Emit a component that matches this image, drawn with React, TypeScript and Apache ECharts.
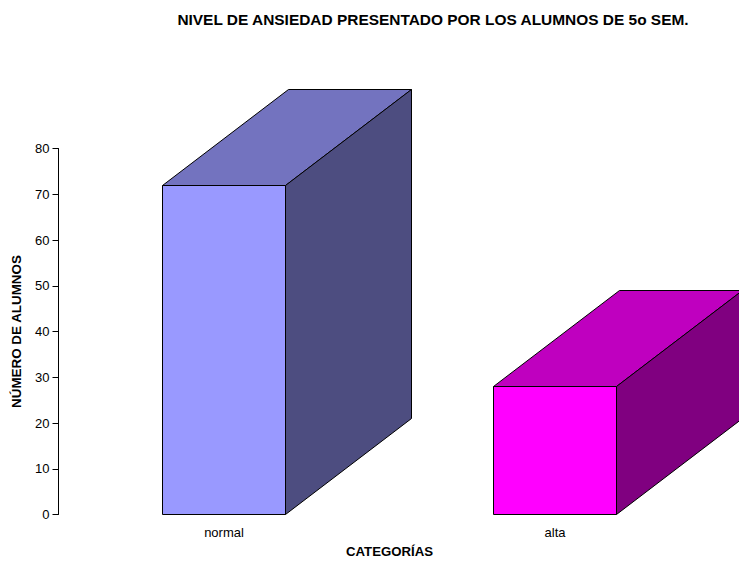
import React, { useEffect, useRef } from "react";
import * as echarts from "echarts";

const categories = ["normal", "alta"];
const alumnos = [72, 28];
const yTicks = { min: 0, max: 80, interval: 10 };
const frontColors = ["#9999ff", "#ff00ff"];
const topColors = ["#7373bf", "#bf00bf"];
const sideColors = ["#4d4d80", "#800080"];

const titleText = "NIVEL DE ANSIEDAD PRESENTADO POR LOS ALUMNOS DE 5o SEM.";
const xName = "CATEGORÍAS";
const yName = "NÚMERO DE ALUMNOS";
const FONT = "'Liberation Sans', Arial, sans-serif";
const DEPTH_X = 126;
const DEPTH_Y = 96;
const BAR_RATIO = 0.3725;

export default function App() {
  const ref = useRef<HTMLDivElement>(null);
  useEffect(() => {
    document.body.style.margin = "0";
    const chart = echarts.init(ref.current!, undefined, { renderer: "svg" });
    chart.setOption({
      animation: false,
      backgroundColor: "#ffffff",
      title: {
        text: titleText,
        left: 428,
        top: 7,
        textAlign: "center",
        textStyle: { fontFamily: FONT, fontSize: 15.45, fontWeight: "bold", color: "#000" },
      },
      grid: { left: 58.5, right: 18.5, top: 148.5, bottom: 47.5, containLabel: false, outerBoundsMode: "none" },
      xAxis: {
        type: "category",
        data: categories,
        name: xName,
        nameLocation: "middle",
        nameGap: 30,
        nameTextStyle: { fontFamily: FONT, fontSize: 13.2, fontWeight: "bold", color: "#000" },
        axisLine: { show: false },
        axisTick: { show: false },
        axisLabel: { fontFamily: FONT, fontSize: 13, color: "#000", margin: 11 },
      },
      yAxis: {
        type: "value",
        min: yTicks.min,
        max: yTicks.max,
        interval: yTicks.interval,
        name: yName,
        nameLocation: "middle",
        nameGap: 36,
        nameTextStyle: { fontFamily: FONT, fontSize: 13.4, fontWeight: "bold", color: "#000" },
        splitLine: { show: false },
        axisLine: { show: true, lineStyle: { color: "#000", width: 1 } },
        axisTick: { show: true, length: 6, lineStyle: { color: "#000", width: 1 } },
        axisLabel: { fontFamily: FONT, fontSize: 13, color: "#000", margin: 9 },
      },
      series: [
        {
          type: "custom",
          clip: false,
          encode: { x: 0, y: 1 },
          data: categories.map((c, i) => [c, alumnos[i]]),
          renderItem: (params: any, api: any) => {
            const idx = params.dataIndex;
            const [cx, yTop] = api.coord([idx, api.value(1)]);
            const [, yBase] = api.coord([idx, 0]);
            const half = (api.size([1, 0])[0] * BAR_RATIO) / 2;
            const x0 = Math.floor(cx - half) + 0.5;
            const x1 = Math.floor(cx + half) + 0.5;
            const yt = Math.floor(yTop) + 0.5;
            const yb = Math.floor(yBase) + 0.5;
            const line = { stroke: "#000", lineWidth: 1 };
            return {
              type: "group",
              children: [
                {
                  type: "polygon",
                  shape: { points: [[x0, yt], [x1, yt], [x1 + DEPTH_X, yt - DEPTH_Y], [x0 + DEPTH_X, yt - DEPTH_Y]] },
                  style: { fill: topColors[idx], ...line },
                },
                {
                  type: "polygon",
                  shape: { points: [[x1, yt], [x1 + DEPTH_X, yt - DEPTH_Y], [x1 + DEPTH_X, yb - DEPTH_Y], [x1, yb]] },
                  style: { fill: sideColors[idx], ...line },
                },
                {
                  type: "polygon",
                  shape: { points: [[x0, yt], [x1, yt], [x1, yb], [x0, yb]] },
                  style: { fill: frontColors[idx], ...line },
                },
              ],
            };
          },
        },
      ],
    });
    return () => chart.dispose();
  }, []);
  return <div ref={ref} style={{ width: 739, height: 562 }} />;
}
